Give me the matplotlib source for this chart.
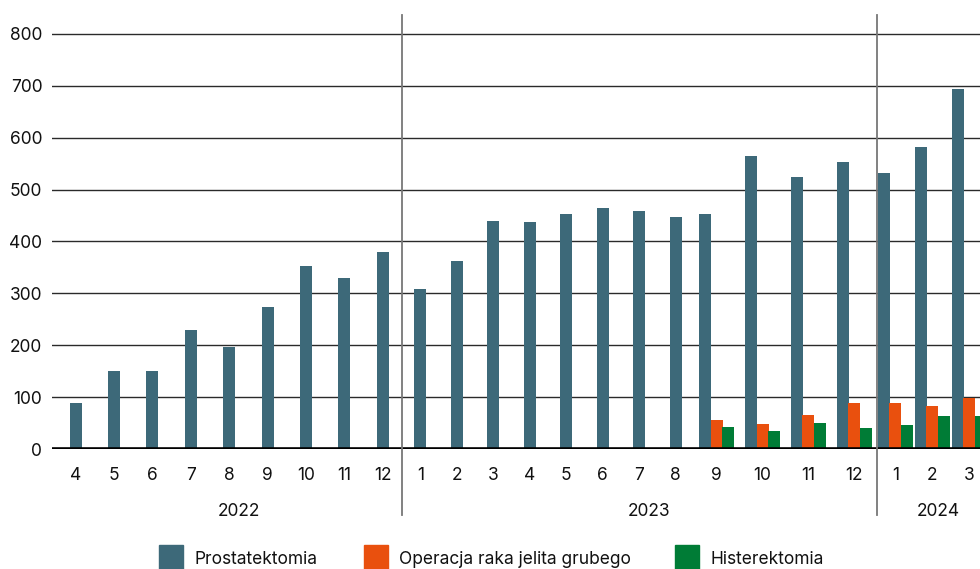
import numpy as np
import matplotlib
matplotlib.use("Agg")
import matplotlib.pyplot as plt
import matplotlib.transforms as mtransforms
from matplotlib.patches import Rectangle

plt.rcParams["font.family"] = ["Inter", "DejaVu Sans"]

# ---- data ----
years = [2022] * 9 + [2023] * 12 + [2024] * 3
months = list(range(4, 13)) + list(range(1, 13)) + [1, 2, 3]
prostatektomia = [88, 150, 150, 229, 197, 274, 353, 330, 380,
                  308, 362, 439, 437, 453, 464, 459, 447, 453, 565, 524, 553,
                  532, 582, 694]
nan = np.nan
operacja_jelita = [nan] * 17 + [55, 49, 66, 88, 88, 82, 98]
histerektomia = [nan] * 17 + [43, 35, 51, 41, 47, 64, 64]
series_names = ["Prostatektomia", "Operacja raka jelita grubego", "Histerektomia"]
colors = ["#3d6979", "#e9500e", "#007c36"]
yticks = [0, 100, 200, 300, 400, 500, 600, 700, 800]

# ---- layout (x axis in pixel-like units) ----
W, H = 980, 569
X0 = 56.4               # first slot start
BAR_W = 12
STEP = 11.5


def slot_width(year, n_bars):
    if year == 2022:
        return 38.4
    if year == 2023:
        return 45.75 if n_bars > 1 else 36.5
    return 37.0


series = [np.array(prostatektomia, float), np.array(operacja_jelita, float),
          np.array(histerektomia, float)]
n_bars = [int(sum(~np.isnan(s[i]) for s in series)) for i in range(len(months))]
widths = [slot_width(y, n) for y, n in zip(years, n_bars)]
edges = X0 + np.concatenate([[0], np.cumsum(widths)])
centers = (edges[:-1] + edges[1:]) / 2

fig = plt.figure(figsize=(W / 100, H / 100), dpi=100)
ax_left, ax_right = 52, 980
ax_top, ax_bottom = 15, 449
ax = fig.add_axes([ax_left / W, (H - ax_bottom) / H,
                   (ax_right - ax_left) / W, (ax_bottom - ax_top) / H])
ax.set_xlim(ax_left, ax_right)
ax.set_ylim(0, (ax_bottom - ax_top) / 51.9 * 100)

for i in range(len(months)):
    present = [k for k, s in enumerate(series) if not np.isnan(s[i])]
    offs = (np.arange(len(present)) - (len(present) - 1) / 2) * STEP
    for k, o in zip(present, offs):
        ax.bar(centers[i] + o, series[k][i], width=BAR_W, color=colors[k],
               linewidth=0, zorder=3)

# grid
for t in yticks[1:]:
    ax.axhline(t, color="#2a2a2a", linewidth=1.0, zorder=1)
ax.axhline(0, color="black", linewidth=2.6, zorder=4)
ax.set_yticks(yticks)
ax.set_yticklabels([str(t) for t in yticks], fontsize=12.5, color="#111111")
ax.tick_params(axis="y", length=0, pad=7)
ax.set_xticks([])
for sp in ax.spines.values():
    sp.set_visible(False)

# month labels and year dividers
trans = mtransforms.blended_transform_factory(ax.transData, fig.transFigure)
for c, m in zip(centers, months):
    ax.text(c, (H - 475) / H, str(m), transform=trans, ha="center", va="center",
            fontsize=12.5, color="#111111")

year_list = [2022, 2023, 2024]
for yr in year_list:
    idx = [i for i, y in enumerate(years) if y == yr]
    lo, hi = edges[idx[0]], min(edges[idx[-1] + 1], ax_right)
    ax.text((lo + hi) / 2 + 10, (H - 511) / H, str(yr), transform=trans,
            ha="center", va="center", fontsize=12.5, color="#111111")
    if yr != year_list[0]:
        ax.plot([lo, lo], [(H - 15) / H, (H - 515) / H], transform=trans,
                color="#777777", linewidth=1.3, clip_on=False, zorder=5)

# legend along the bottom edge
leg_x = [159, 364, 675]
for x, name, col in zip(leg_x, series_names, colors):
    fig.patches.append(Rectangle((x / W, (H - 569 - 10) / H), 24 / W, 34 / H,
                                 transform=fig.transFigure, color=col))
    fig.text((x + 35) / W, (H - 564) / H, name, ha="left", va="baseline",
             fontsize=12.5, color="#111111")

fig.savefig("out.png", dpi=100)
